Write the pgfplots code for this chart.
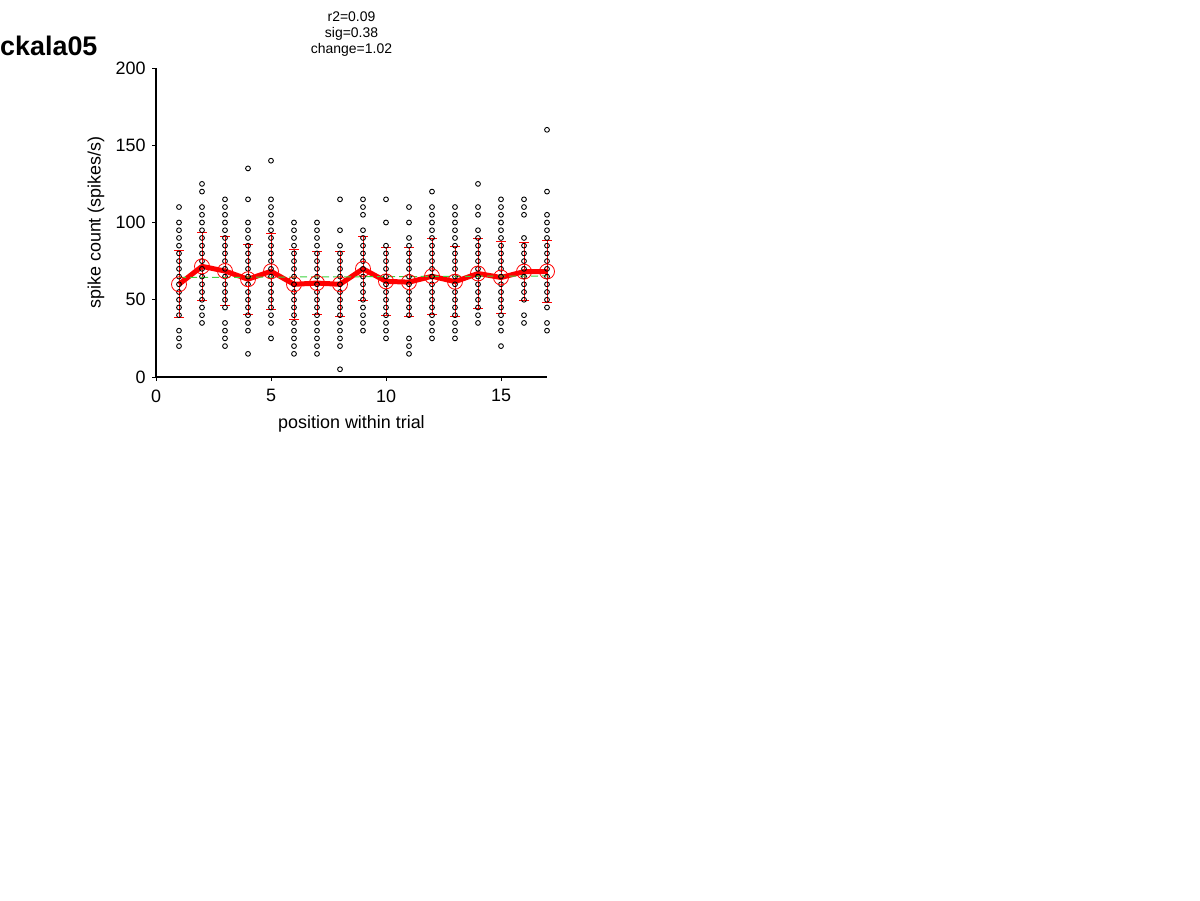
\documentclass[border=0pt]{standalone}
\usepackage{fontspec}
\setmainfont{Liberation Sans}
\usepackage{pgfplots}
\pgfplotsset{compat=1.18}

\definecolor{fitgreen}{RGB}{60,210,60}

\begin{document}
\begin{tikzpicture}
% page = 1200 x 901 px, origin at the top left corner
\path[use as bounding box, fill=white] (0,0) rectangle (1200bp,-901bp);
\node[anchor=base west, inner sep=0pt, font=\fontsize{27}{27}\selectfont\bfseries] at (0bp,-55bp) {ckala05};

\begin{axis}[
    at={(156bp,-377bp)}, anchor=south west,
    scale only axis, width=391bp, height=309bp,
    xmin=0, xmax=17, ymin=0, ymax=200,
    axis x line*=bottom, axis y line*=left,
    axis line style={-, line width=1.2bp},
    xtick={0,5,10,15}, ytick={0,50,100,150,200},
    tick align=outside, major tick length=4bp,
    tick style={black, line width=1bp},
    ticklabel style={font=\fontsize{18}{18}\selectfont},
    xticklabel style={yshift=-5bp},
    yticklabel style={xshift=-3bp},
    /pgf/number format/assume math mode=true,
    xlabel={position within trial},
    ylabel={spike count (spikes/s)},
    label style={font=\fontsize{18}{18}\selectfont},
    xlabel style={at={(axis description cs:0.5,-0.152)}, anchor=center},
    ylabel style={at={(axis description cs:-0.1535,0.5)}, anchor=center},
    title={r2=0.09\\sig=0.38\\change=1.02},
    title style={at={(axis description cs:0.5,1.09)}, anchor=center, align=center,
                 font=\fontsize{14}{16}\selectfont},
    clip=false,
]

% individual trials
\addplot[only marks, mark=o, mark size=2.4bp, mark options={black, line width=0.9bp}] coordinates {
(1,20)(1,25)(1,30)(1,40)(1,45)(1,50)(1,55)(1,60)(1,65)(1,70)(1,75)(1,80)(1,85)(1,90)(1,95)(1,100)(1,110)
(2,35)(2,40)(2,45)(2,50)(2,55)(2,60)(2,65)(2,70)(2,75)(2,80)(2,85)(2,90)(2,95)(2,100)(2,105)(2,110)(2,120)(2,125)
(3,20)(3,25)(3,30)(3,35)(3,45)(3,50)(3,55)(3,60)(3,65)(3,70)(3,75)(3,80)(3,85)(3,90)(3,95)(3,100)(3,105)(3,110)(3,115)
(4,15)(4,30)(4,35)(4,40)(4,45)(4,50)(4,55)(4,60)(4,65)(4,70)(4,75)(4,80)(4,85)(4,90)(4,95)(4,100)(4,115)(4,135)
(5,25)(5,35)(5,40)(5,45)(5,50)(5,55)(5,60)(5,65)(5,70)(5,75)(5,80)(5,85)(5,90)(5,95)(5,100)(5,105)(5,110)(5,115)(5,140)
(6,15)(6,20)(6,25)(6,30)(6,35)(6,40)(6,45)(6,50)(6,55)(6,60)(6,65)(6,70)(6,75)(6,80)(6,85)(6,90)(6,95)(6,100)
(7,15)(7,20)(7,25)(7,30)(7,35)(7,40)(7,45)(7,50)(7,55)(7,60)(7,65)(7,70)(7,75)(7,80)(7,85)(7,90)(7,95)(7,100)
(8,5)(8,20)(8,25)(8,30)(8,35)(8,40)(8,45)(8,50)(8,55)(8,60)(8,65)(8,70)(8,75)(8,80)(8,85)(8,95)(8,115)
(9,30)(9,35)(9,40)(9,45)(9,50)(9,55)(9,60)(9,65)(9,70)(9,75)(9,80)(9,85)(9,90)(9,95)(9,105)(9,110)(9,115)
(10,25)(10,30)(10,35)(10,40)(10,45)(10,50)(10,55)(10,60)(10,65)(10,70)(10,75)(10,80)(10,85)(10,100)(10,115)
(11,15)(11,20)(11,25)(11,40)(11,45)(11,50)(11,55)(11,60)(11,65)(11,70)(11,75)(11,80)(11,85)(11,90)(11,100)(11,110)
(12,25)(12,30)(12,35)(12,40)(12,45)(12,50)(12,55)(12,60)(12,65)(12,70)(12,75)(12,80)(12,85)(12,90)(12,95)(12,100)(12,105)(12,110)(12,120)
(13,25)(13,30)(13,35)(13,40)(13,45)(13,50)(13,55)(13,60)(13,65)(13,70)(13,75)(13,80)(13,85)(13,90)(13,95)(13,100)(13,105)(13,110)
(14,35)(14,40)(14,45)(14,50)(14,55)(14,60)(14,65)(14,70)(14,75)(14,80)(14,85)(14,90)(14,95)(14,105)(14,110)(14,125)
(15,20)(15,30)(15,35)(15,40)(15,45)(15,50)(15,55)(15,60)(15,65)(15,70)(15,75)(15,80)(15,85)(15,90)(15,95)(15,100)(15,105)(15,110)(15,115)
(16,35)(16,40)(16,50)(16,55)(16,60)(16,65)(16,70)(16,75)(16,80)(16,85)(16,90)(16,105)(16,110)(16,115)
(17,30)(17,35)(17,45)(17,50)(17,55)(17,60)(17,65)(17,70)(17,75)(17,80)(17,85)(17,90)(17,95)(17,100)(17,105)(17,120)(17,160)
};

% mean +- sd
\addplot[red, line width=1bp, mark=o, mark size=7.5bp, mark options={red, line width=0.8bp},
    error bars/.cd, y dir=both, y explicit,
    error bar style={red, line width=1bp},
    error mark options={red, mark size=5bp, line width=1bp, rotate=90}]
coordinates {
(1,60.0) +- (0,21.8)
(2,71.6) +- (0,21.8)
(3,68.6) +- (0,22.2)
(4,63.3) +- (0,22.6)
(5,68.4) +- (0,24.6)
(6,60.0) +- (0,22.6)
(7,60.8) +- (0,20.2)
(8,60.0) +- (0,21.0)
(9,70.0) +- (0,20.8)
(10,61.9) +- (0,21.8)
(11,61.4) +- (0,22.4)
(12,65.2) +- (0,24.5)
(13,61.7) +- (0,22.7)
(14,67.0) +- (0,22.6)
(15,64.4) +- (0,23.2)
(16,68.2) +- (0,18.8)
(17,68.3) +- (0,20.0)
};

% thick mean line
\addplot[red, line width=5bp, line join=round, mark=none] coordinates {
(1,60.0)(2,71.6)(3,68.6)(4,63.3)(5,68.4)(6,60.0)(7,60.8)(8,60.0)(9,70.0)
(10,61.9)(11,61.4)(12,65.2)(13,61.7)(14,67.0)(15,64.4)(16,68.2)(17,68.3)
};

% linear fit
\addplot[fitgreen, dashed, line width=1bp, dash pattern=on 7bp off 4bp] coordinates {
(1,64.4)(17,65.4)
};

\end{axis}
\end{tikzpicture}
\end{document}
